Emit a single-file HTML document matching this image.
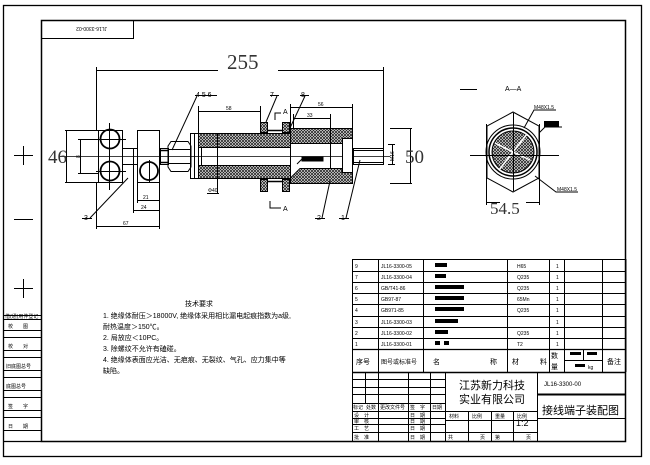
<!DOCTYPE html>
<html><head><meta charset="utf-8"><style>
html,body{margin:0;padding:0;background:#fff;}
svg{display:block;}
text{font-family:"Liberation Sans","Noto Sans CJK SC",sans-serif;fill:#000;}
.cj{font-family:"Liberation Sans","WenQuanYi Zen Hei",sans-serif;}
.big{font-family:"Liberation Serif","DejaVu Serif",serif;fill:#333;}
</style></head><body>
<svg width="650" height="465" viewBox="0 0 650 465" xmlns="http://www.w3.org/2000/svg">
<defs>
<pattern id="h" width="3" height="3" patternUnits="userSpaceOnUse">
<rect width="3" height="3" fill="#fff"/>
<path d="M0,0L3,3M3,0L0,3" stroke="#222" stroke-width="0.8"/>
</pattern>
</defs>
<g fill="none" stroke="#000" stroke-width="1">
<rect x="3.5" y="5.5" width="638" height="451" stroke-width="1.3"/>
<rect x="41.5" y="20.5" width="584" height="421" stroke-width="1.5"/>
<line x1="3" y1="441.5" x2="41" y2="441.5" stroke-width="1.3"/>
<rect x="41.5" y="20.5" width="92" height="18"/>
<g stroke-width="1">
<line x1="3" y1="315.5" x2="41" y2="315.5"/>
<line x1="3" y1="319.5" x2="41" y2="319.5"/>
<line x1="3" y1="330.5" x2="41" y2="330.5"/>
<line x1="3" y1="337.5" x2="41" y2="337.5"/>
<line x1="3" y1="350.5" x2="41" y2="350.5"/>
<line x1="3" y1="357.5" x2="41" y2="357.5"/>
<line x1="3" y1="370.5" x2="41" y2="370.5"/>
<line x1="3" y1="377.5" x2="41" y2="377.5"/>
<line x1="3" y1="390.5" x2="41" y2="390.5"/>
<line x1="3" y1="397.5" x2="41" y2="397.5"/>
<line x1="3" y1="410.5" x2="41" y2="410.5"/>
<line x1="3" y1="417.5" x2="41" y2="417.5"/>
<line x1="3" y1="430.5" x2="41" y2="430.5"/>
</g>
<path d="M14 155.5H33M23.5 146V165M14 219.5H33M14 288.5H33M23.5 279V298"/>
<path d="M96 70.5H218M278 70.5H383M96.5 67V131M383.5 67V150"/>
<line x1="60" y1="156.5" x2="390" y2="156.5" stroke-width="0.8"/>
<rect x="98.5" y="130.5" width="24" height="52"/>
<rect x="137.5" y="130.5" width="22" height="52"/>
<path d="M122 148.5H137M122 164.5H137M133.5 148V175M65 130.5H98M65 182.5H98M66.5 130V183M78 139.5H98M78 173.5H98M80.5 139V174"/>
<circle cx="110" cy="139" r="9.5" stroke-width="1.8"/>
<circle cx="110" cy="171" r="9.5" stroke-width="1.8"/>
<circle cx="149" cy="171" r="9" stroke-width="1.8"/>
<path d="M109.5 123V190M96 139.5H126M96 171.5H126M149.5 160V182"/>
<rect x="160.5" y="148.5" width="8" height="16"/>
<path d="M160 150.5H168M160 162.5H168" stroke-width="1.5"/>
<path d="M171 141.5H188L191 146V167L188 171.5H171L168 167V146Z"/>
<path d="M168 149.5H191M168 163.5H191"/>
<rect x="190.5" y="133.5" width="4" height="45"/>
<rect x="194.5" y="133.5" width="96" height="45"/>
<rect x="198.5" y="133.5" width="92" height="14" fill="url(#h)"/>
<rect x="198.5" y="165.5" width="92" height="13" fill="url(#h)"/>
<path d="M198.5 147V165M201.5 147V165"/>
<path d="M290.5 128.5H352.5V183.5H290.5Z"/>
<rect x="290.5" y="128.5" width="62" height="15" fill="url(#h)"/>
<path d="M300 168.5H342V172.5H352.5V183.5H290.5V178Z" fill="url(#h)"/>
<rect x="342.5" y="138.5" width="10" height="34" fill="#fff"/>
<path d="M330.5 143V168M290.5 143V168"/>
<rect x="302" y="157" width="21" height="4" fill="#000"/>
<path d="M297 164L302 159"/>
<rect x="260.5" y="122.5" width="7" height="10" fill="url(#h)"/>
<rect x="282.5" y="122.5" width="7" height="10" fill="url(#h)"/>
<rect x="260.5" y="179.5" width="7" height="12" fill="url(#h)"/>
<rect x="282.5" y="179.5" width="7" height="12" fill="url(#h)"/>
<path d="M267 130.5H283M267 181.5H283" stroke-width="1.5"/>
<rect x="353.5" y="148.5" width="30" height="16"/>
<path d="M353 150.5H383M353 162.5H383"/>
<path d="M198.5 106V133M260.5 106V122M198 111.5H260M290.5 104V128M352.5 104V128M290 107.5H352M293.5 114V128M330.5 114V143M293 118.5H330"/>
<path d="M217.5 133V193M207 193.5H219"/>
<path d="M390 128.5H412M390 183.5H412M410.5 128V184M388 144.5H395M388 164.5H395M392.5 144V165"/>
<path d="M137.5 182V203M159.5 182V213M137 200.5H159M133.5 175V213M133 210.5H159M96.5 183V229M159.5 213V229M96 226.5H159"/>
<path d="M195 95.5H217M197 96L172 150M270 95.5H279M277 96L266 122M300 95.5H309M305 96L290 128M82 218.5H92M90 218L128 178M315 218.5H325M322 218L330 181M339 218.5H349M346 218L360 160"/>
<path d="M275 120V113H281M270 201V208H281"/>
<path d="M460 89.5H477"/>
<path d="M513 112L539 126V178L513 192L487 178V126Z"/>
<path d="M486.5 124V205M539.5 124V205M486 202.5H500M526 202.5H539"/>
<circle cx="513" cy="152" r="27"/>
<circle cx="513" cy="152" r="24" stroke-width="1.5"/>
<circle cx="513" cy="152" r="21" fill="url(#h)"/>
<path d="M513 152L527 134M513 152L499 170M513 152L530 160M513 152L495 143" stroke="#fff" stroke-width="1.5"/>
<path d="M470 155.5H559M513.5 113V191"/>
<path d="M524 128L534 110H556M539 133L545 127H562M535 176L556 192H578"/>
<g stroke-width="1">
<path d="M352.5 259.5H626M352 271.5H626M352 282.5H626M352 293.5H626M352 304.5H626M352 316.5H626M352 327.5H626M352 338.5H626"/>
<path d="M352 349.5H626" stroke-width="1.3"/>
<path d="M352 372.5H626" stroke-width="1.5"/>
<path d="M352.5 259V442M378.5 259V372M423.5 259V372M507.5 259V372M549.5 259V372M564.5 259V372M602.5 259V372M626 259V372"/>
<path d="M564 360.5H602M583.5 349V360"/>
<path d="M352 379.5H445M352 387.5H445M352 394.5H445M352 403.5H445M352 411.5H445M352 418.5H445M352 424.5H445M352 432.5H445"/>
<path d="M365.5 372V403M378.5 372V442M408.5 372V442M430.5 372V442M445.5 372V442"/>
<path d="M445 411.5H537M445 420.5H537M445 432.5H537M468.5 411V442M491.5 411V442M513.5 411V442M537.5 372V442"/>
<path d="M537 394.5H626" stroke-width="2"/>
<path d="M537 418.5H626"/>
</g>
</g>
<g fill="#000">
<rect x="435" y="263" width="12" height="4"/><rect x="435" y="274" width="11" height="4"/>
<rect x="435" y="285" width="29" height="4"/><rect x="435" y="296" width="29" height="4"/>
<rect x="435" y="307" width="29" height="4"/><rect x="435" y="319" width="23" height="4"/>
<rect x="435" y="330" width="13" height="4"/><rect x="435" y="341" width="5" height="4"/><rect x="444" y="341" width="5" height="4"/>
<rect x="570" y="352" width="11" height="3"/><rect x="587" y="352" width="10" height="3"/><rect x="575" y="364" width="10" height="3"/>
<rect x="544" y="121" width="15" height="6"/>
</g>
<g font-size="5">
<text x="67" y="33" transform="rotate(180 87 30)">JL16-3300-02</text>
<text x="355" y="268">9</text><text x="381" y="268">JL16-3300-05</text><text x="517" y="268">H65</text><text x="556" y="268">1</text>
<text x="355" y="279">7</text><text x="381" y="279">JL16-3300-04</text><text x="517" y="279">Q235</text><text x="556" y="279">1</text>
<text x="355" y="290">6</text><text x="381" y="290">GB/T41-86</text><text x="517" y="290">Q235</text><text x="556" y="290">1</text>
<text x="355" y="301">5</text><text x="381" y="301">GB97-87</text><text x="517" y="301">65Mn</text><text x="556" y="301">1</text>
<text x="355" y="312">4</text><text x="381" y="312">GB971-85</text><text x="517" y="312">Q235</text><text x="556" y="312">1</text>
<text x="355" y="324">3</text><text x="381" y="324">JL16-3300-03</text><text x="556" y="324">1</text>
<text x="355" y="335">2</text><text x="381" y="335">JL16-3300-02</text><text x="517" y="335">Q235</text><text x="556" y="335">1</text>
<text x="355" y="346">1</text><text x="381" y="346">JL16-3300-01</text><text x="517" y="346">T2</text><text x="556" y="346">1</text>
<text x="208" y="192" text-decoration="underline">Φ40</text>
<text x="226" y="110">58</text><text x="318" y="106">56</text><text x="307" y="117">33</text>
<text x="143" y="199">21</text><text x="141" y="209">24</text><text x="123" y="225">67</text>
<text x="76" y="158" transform="rotate(-90 78 156)">8</text>
<text x="534" y="109">M48X1.5</text><text x="557" y="191">M48X1.5</text>
<text x="386" y="157" transform="rotate(-90 392 155)">M16</text>
</g>
<g font-size="7">
<text x="196" y="97">4 5 6</text><text x="270" y="97">7</text><text x="301" y="97">8</text>
<text x="84" y="220">3</text><text x="317" y="220">2</text><text x="341" y="220">1</text>
<text x="283" y="114">A</text><text x="283" y="211">A</text>
<text x="505" y="91">A—A</text>
<text x="516" y="426" font-size="9">1:2</text>
<text x="544" y="386" font-size="6">JL16-3300-00</text>
</g>
<text class="big" x="227" y="69" font-size="21">255</text>
<text class="big" x="48" y="163" font-size="19">46</text>
<text class="big" x="405" y="163" font-size="19">50</text>
<text class="big" x="490" y="214" font-size="17">54.5</text>
<g class="cj" font-size="7">
<text x="185" y="306">技术要求</text>
<text x="103" y="318">1. 绝缘体耐压＞18000V, 绝缘体采用相比漏电起痕指数为a级,</text>
<text x="103" y="329">耐热温度＞150℃。</text>
<text x="103" y="340">2. 局放应＜10PC。</text>
<text x="103" y="351">3. 除螺纹不允许有磕碰。</text>
<text x="103" y="362">4. 绝缘体表面应光洁、无疤痕、无裂纹、气孔、应力集中等</text>
<text x="103" y="373">缺陷。</text>
<text x="356" y="364">序号</text><text x="381" y="364" font-size="6">图号或标准号</text>
<text x="433" y="364">名</text><text x="490" y="364">称</text><text x="512" y="364">材</text><text x="540" y="364">料</text>
<text x="551" y="358">数</text><text x="551" y="369">量</text><text x="607" y="364">备注</text>
<text x="459" y="389" font-size="11">江苏新力科技</text>
<text x="459" y="403" font-size="11">实业有限公司</text>
<text x="542" y="414" font-size="11">接线端子装配图</text>
<g font-size="5">
<text x="5" y="318">借(通)用件登记</text><text x="8" y="328">校　　图</text><text x="8" y="348">校　　对</text>
<text x="6" y="368">旧底图总号</text><text x="6" y="388">底图总号</text><text x="8" y="408">签　　字</text><text x="8" y="428">日　　期</text>
<text x="353" y="409">标记</text><text x="366" y="409">处数</text><text x="380" y="409">更改文件号</text><text x="410" y="409">签　字</text><text x="432" y="409">日期</text>
<text x="354" y="417">设　计</text><text x="410" y="417">日　期</text>
<text x="354" y="423">审　核</text><text x="410" y="423">日　期</text>
<text x="354" y="430">工　艺</text><text x="410" y="430">日　期</text>
<text x="354" y="439">批　准</text><text x="410" y="439">日　期</text>
<text x="449" y="418">材料</text><text x="472" y="418">比例</text><text x="495" y="418">重量</text><text x="517" y="418">比例</text>
<text x="448" y="439">共</text><text x="480" y="439">页</text><text x="495" y="439">第</text><text x="526" y="439">页</text>
<text x="588" y="369">kg</text>
</g>
</g>
</svg>
</body></html>
